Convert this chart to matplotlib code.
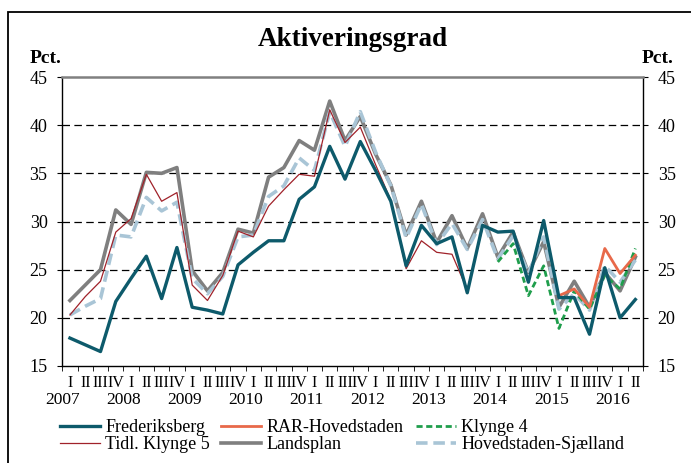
# Aktiveringsgrad - kvartalsvis 2007 I til 2016 II
import matplotlib.pyplot as plt
import numpy as np
from matplotlib.patches import Rectangle
from matplotlib import transforms

nan = np.nan

# --- data (pct.) ---
years = [2007, 2008, 2009, 2010, 2011, 2012, 2013, 2014, 2015, 2016]
quarters = ["I", "II", "III", "IV"]
n_quarters = 38  # 2007 I .. 2016 II

frederiksberg = [17.9, 17.2, 16.5, 21.7, 24.1, 26.4, 22.0, 27.3, 21.1, 20.8,
                 20.4, 25.5, 26.8, 28.0, 28.0, 32.3, 33.6, 37.8, 34.4, 38.3,
                 35.3, 32.1, 25.4, 29.6, 27.7, 28.4, 22.6, 29.6, 28.9, 29.0,
                 23.7, 30.1, 22.1, 22.1, 18.3, 25.2, 20.0, 21.9]
rar_hovedstaden = [nan] * 32 + [22.3, 23.0, 21.1, 27.2, 24.6, 26.5]
klynge4 = [nan] * 28 + [25.8, 27.7, 22.3, 25.4, 18.9, 22.8, 20.9, 24.4, 23.0, 27.2]
tidl_klynge5 = [20.3, 22.2, 23.8, 28.9, 30.3, 34.9, 32.1, 33.0, 23.4, 21.8,
                24.4, 29.0, 28.4, 31.6, 33.3, 34.9, 34.7, 41.6, 38.2, 39.8,
                35.9, 32.2, 25.1, 28.0, 26.8, 26.6, 22.9, 29.3] + [nan] * 10
landsplan = [21.8, 23.4, 25.0, 31.2, 29.7, 35.1, 35.0, 35.6, 24.9, 22.8,
             24.7, 29.2, 28.8, 34.6, 35.6, 38.4, 37.4, 42.5, 38.4, 40.9,
             37.0, 33.8, 28.6, 32.1, 27.8, 30.6, 27.2, 30.8, 26.3, 28.9,
             24.7, 27.9, 21.1, 23.8, 21.1, 24.7, 22.8, 26.3]
hovedstaden_sjaelland = [20.3, 21.2, 22.0, 28.6, 28.4, 32.5, 31.1, 32.0, 24.1, 22.5,
                         24.3, 28.4, 28.6, 32.6, 33.7, 36.6, 35.3, 41.4, 37.8, 41.4,
                         37.2, 33.7, 28.3, 31.8, 27.6, 29.8, 27.1, 30.2, 26.1, 28.5,
                         24.6, 28.4, 20.9, 22.5, 20.8, 25.4, 23.7, 26.0]

plt.rcParams["font.family"] = ["Liberation Serif", "DejaVu Serif"]

W, H = 691, 463
fig = plt.figure(figsize=(W / 100, H / 100), dpi=100)
ax = fig.add_axes([62.3 / W, 1 - 366 / H, (643 - 62.3) / W, (366 - 77) / H])

x = np.arange(n_quarters)

# gitterlinjer
for yv in [20, 25, 30, 35, 40]:
    ax.axhline(yv, color="black", lw=0.9, linestyle=(0, (6, 3.5)), zorder=1)

ax.plot(x, landsplan, color="#7f7f7f", lw=2.6, label="Landsplan", zorder=2)
ax.plot(x, hovedstaden_sjaelland, color="#a9c5d6", lw=2.6, linestyle=(0, (3.2, 1.6)),
        label="Hovedstaden-Sjælland", zorder=3)
ax.plot(x, tidl_klynge5, color="#a0222a", lw=0.9, label="Tidl. Klynge 5", zorder=4)
ax.plot(x, klynge4, color="#1f9e4c", lw=2.0, linestyle=(0, (2.2, 1.3)), label="Klynge 4", zorder=5)
ax.plot(x, rar_hovedstaden, color="#e8694a", lw=2.0, label="RAR-Hovedstaden", zorder=5)
ax.plot(x, frederiksberg, color="#0d5a6b", lw=2.4, label="Frederiksberg", zorder=6)

ax.set_xlim(-0.5, n_quarters - 0.5)
ax.set_ylim(15, 45)
ax.set_yticks([15, 20, 25, 30, 35, 40, 45])
ax.tick_params(axis="y", which="both", direction="out", length=3.6, labelsize=13,
               right=True, labelright=True, pad=7)
top_tick = ax.yaxis.get_major_ticks()[-1]
top_tick.tick1line.set_color("#808080")
top_tick.tick2line.set_color("#808080")

# x-akse: kvartaler + år
ax.set_xticks(x)
ax.set_xticklabels([quarters[i % 4] for i in x], fontsize=11.5)
ax.set_xticks(np.arange(n_quarters + 1) - 0.5, minor=True)
ax.tick_params(axis="x", which="major", length=0, pad=6.5)
ax.tick_params(axis="x", which="minor", length=3.6, direction="out")

trans = transforms.blended_transform_factory(ax.transData, ax.transAxes)
for j, yr in enumerate(years):
    ax.text(4 * j - 0.5, -0.089, str(yr), transform=trans, ha="center", va="top",
            fontsize=12.5)

ax.spines["top"].set_color("#808080")
ax.spines["top"].set_linewidth(1.8)
for s in ["bottom", "left", "right"]:
    ax.spines[s].set_linewidth(1.0)

# titler
fig.text((62.3 + 643) / 2 / W, 1 - 46 / H, "Aktiveringsgrad", ha="center",
         va="baseline", fontsize=19.5, fontweight="bold")
fig.text(30 / W, 1 - 63 / H, "Pct.", ha="left", va="baseline", fontsize=14,
         fontweight="bold")
fig.text(674 / W, 1 - 63 / H, "Pct.", ha="right", va="baseline", fontsize=14,
         fontweight="bold")

# legende i tre kolonner
handles, labels = ax.get_legend_handles_labels()
hmap = dict(zip(labels, handles))
columns = [(60, ["Frederiksberg", "Tidl. Klynge 5"]),
           (221, ["RAR-Hovedstaden", "Landsplan"]),
           (416, ["Klynge 4", "Hovedstaden-Sjælland"])]
for xpos, names in columns:
    leg = fig.legend([hmap[n] for n in names], names, loc="upper left",
                     bbox_to_anchor=(xpos / W, 1 - 419 / H), frameon=False,
                     fontsize=13, handlelength=2.2, handletextpad=0.3,
                     labelspacing=0.02, borderpad=0, borderaxespad=0)

# ramme om figuren
fig.patches.append(Rectangle((8 / W, -0.1), 1.2, 0.1 + 1 - 12 / H,
                             transform=fig.transFigure, fill=False,
                             edgecolor="black", lw=1.3))

fig.savefig("out.png", dpi=100)
